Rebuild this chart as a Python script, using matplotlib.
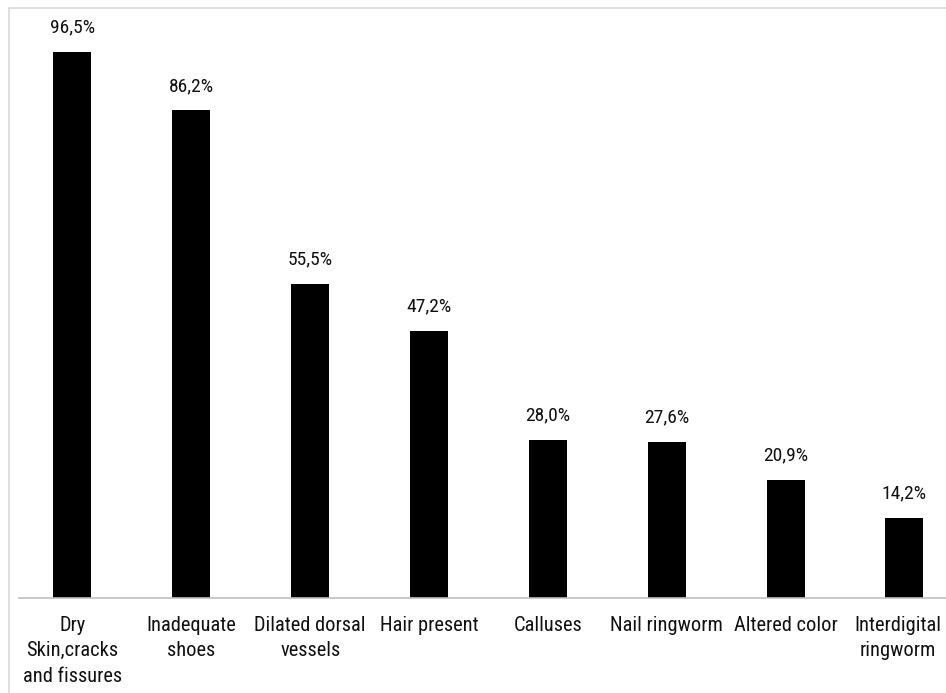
import matplotlib
matplotlib.use("Agg")
import matplotlib.pyplot as plt
import matplotlib.patches as patches
import matplotlib.transforms as mtransforms
from matplotlib import font_manager

# --- данные ---
categories = ["Dry\nSkin,cracks\nand fissures", "Inadequate\nshoes",
              "Dilated dorsal\nvessels", "Hair present", "Calluses",
              "Nail ringworm", "Altered color", "Interdigital\nringworm"]
values = [96.5, 86.2, 55.5, 47.2, 28.0, 27.6, 20.9, 14.2]
value_labels = ["96,5%", "86,2%", "55,5%", "47,2%", "28,0%", "27,6%", "20,9%", "14,2%"]

# ищем узкий шрифт (как Arial Narrow в оригинале)
narrow = None
for f in font_manager.fontManager.ttflist:
    low = (f.name + " " + f.fname).lower()
    if ("narrow" in low or "condensed" in low) and "bold" not in low and "oblique" not in low \
            and "italic" not in low and "semi" not in low and "light" not in low:
        narrow = f.fname
        if "liberation" in low or "roboto" in low:
            break
if narrow:
    val_font = font_manager.FontProperties(fname=narrow, size=14)
    cat_font = font_manager.FontProperties(fname=narrow, size=14.7)
else:
    val_font = font_manager.FontProperties(family="Liberation Sans", size=13)
    cat_font = font_manager.FontProperties(family="Liberation Sans", size=13.5)

W, H = 946, 693
fig = plt.figure(figsize=(W / 100, H / 100), dpi=100)

# рамка вокруг области диаграммы
frame = patches.Rectangle((9 / W, -0.1), 1.2, 1 - 8 / H + 0.1, transform=fig.transFigure,
                          fill=False, edgecolor="#d9d9d9", linewidth=1.2)
fig.patches.append(frame)

ax = fig.add_axes([19 / W, 95 / H, 1 - 19 / W, 1 - 95 / H - 10 / H])
x = list(range(len(categories)))
ax.bar(x, values, width=0.32, color="black")

for xi, v, lab in zip(x, values, value_labels):
    ax.annotate(lab, (xi, v), xytext=(0, 11), textcoords="offset points",
                ha="center", va="bottom", fontproperties=val_font, color="#111111")

ax.set_xlim(-0.45, 7.35)
ax.set_ylim(0, 103.9)
ax.set_xticks(x)
ax.set_xticklabels(categories, fontproperties=cat_font, color="#111111", linespacing=1.42, va="top")
ax.tick_params(axis="x", length=0, pad=13)
ax.set_yticks([])
for side in ["top", "right", "left"]:
    ax.spines[side].set_visible(False)
ax.spines["bottom"].set_color("#bfbfbf")
ax.spines["bottom"].set_linewidth(1.2)

# последняя подпись упирается в край - чуть сдвигаем влево
last = ax.get_xticklabels()[-1]
last.set_transform(last.get_transform() + mtransforms.ScaledTranslation(-5 / 72, 0, fig.dpi_scale_trans))

plt.savefig("out.png", dpi=100)
